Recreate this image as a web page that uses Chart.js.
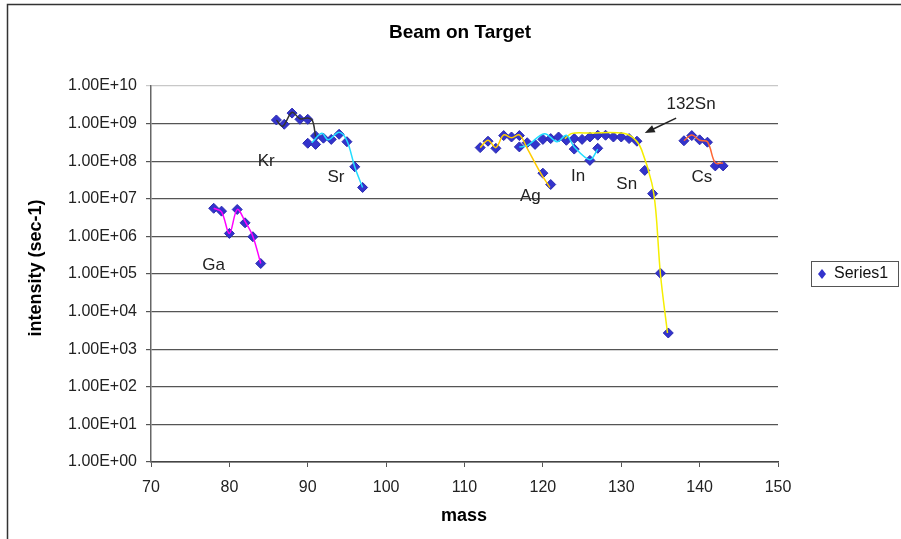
<!DOCTYPE html>
<html>
<head>
<meta charset="utf-8">
<title>Beam on Target</title>
<script src="https://cdn.jsdelivr.net/npm/chart.js@4/dist/chart.umd.min.js"></script>
<style>
  body { margin:0; background:#fff; }
  #chart { display:block; }
</style>
</head>
<body>
<canvas id="chart" width="901" height="539"></canvas>
<script>
// Series1 : measured yields
var massValues = [78,79,80,81,82,83,84,
  86,87,88,89,90,90,91,91,92,93,94,95,96,97,
  112,113,114,115,116,117,117,118,119,120,120,121,121,122,123,124,124,125,126,126,127,127,128,129,130,131,132,133,134,135,136,
  138,139,140,141,142,143];
var intensityValues = [5.6e6,4.7e6,1.2e6,5.2e6,2.3e6,9.8e5,1.9e5,
  1.25e9,9.6e8,1.9e9,1.3e9,1.3e9,3.0e8,4.7e8,2.8e8,4.1e8,3.8e8,5.2e8,3.3e8,7.1e7,2.0e7,
  2.3e8,3.4e8,2.2e8,4.8e8,4.4e8,4.8e8,2.4e8,3.1e8,2.8e8,3.8e8,4.8e7,4.0e8,2.4e7,4.4e8,3.6e8,4.0e8,2.1e8,3.8e8,4.4e8,1.05e8,4.9e8,2.2e8,4.9e8,4.4e8,4.4e8,4.0e8,3.4e8,5.7e7,1.37e7,1.05e5,2.7e3,
  3.5e8,4.8e8,3.7e8,3.2e8,7.5e7,7.5e7];

// hand drawn element curves [mass, intensity]
var curveGa = [[78,5.6e6],[79,4.5e6],[80,1.2e6],[81,5.2e6],[82,2.5e6],[83,1.0e6],[84,1.9e5]];
var curveKr = [[86,1.25e9],[86.8,8.5e8],[88,2.0e9],[89,1.35e9],[90,1.4e9],[90.6,1.2e9],[91,4.5e8]];
var curveSr = [[90.5,3.1e8],[91.8,5.5e8],[92.6,3.7e8],[94,5.9e8],[95,3.5e8],[96,7e7],[97,2e7]];
var curveAg = [[112,2.3e8],[113,3.6e8],[114,2.3e8],[115,5e8],[116,4.2e8],[117,5e8],[118,2.2e8],[119.6,5.3e7],[120.9,2e7]];
var curveIn = [[117,2.4e8],[118,2.6e8],[120.2,5.4e8],[121.8,3.3e8],[123,4.9e8],[124,2.4e8],[126,1.1e8],[127,2.1e8]];
var curveSn = [[122.8,4e8],[123.7,5.5e8],[126,5.6e8],[130.3,5.5e8],[131.8,3.7e8],[132.6,2e8],[133.9,2.6e7],[134.4,5e6],[135,1e5],[135.9,2.7e3]];
var curveCs = [[138,3.5e8],[139,5e8],[140,3.6e8],[141,3.3e8],[142,9e7],[143,9e7]];

var massTicks = [70,80,90,100,110,120,130,140,150];
var decadeTicks = [0,1,2,3,4,5,6,7,8,9,10];

// element labels anchored in data units
var elementLabels = [
  {text:'Ga', mass:78.0, value:1.74e5},
  {text:'Kr', mass:84.7, value:1.0e8},
  {text:'Sr', mass:93.6, value:3.8e7},
  {text:'Ag', mass:118.4, value:1.17e7},
  {text:'In', mass:124.5, value:4.0e7},
  {text:'Sn', mass:130.7, value:2.45e7},
  {text:'Cs', mass:140.3, value:3.8e7},
  {text:'132Sn', mass:138.9, value:3.3e9}
];
var arrowFrom = [137.0, 1.4e9];
var arrowTo = [133.0, 5.6e8];

function toPoints(pairs) {
  return pairs.map(function(p){ return {x:p[0], y:p[1]}; });
}
function curve(pairs, color) {
  return {label:'', data:toPoints(pairs), showLine:true, borderColor:color, borderWidth:1.5,
    pointRadius:0, tension:0.35, fill:false, order:1};
}

var decor = {
  id:'decor',
  afterDraw: function(chart) {
    var ctx = chart.ctx, xs = chart.scales.x, ys = chart.scales.y;
    ctx.save();
    // outer frame
    ctx.strokeStyle = '#333'; ctx.lineWidth = 1.5;
    ctx.strokeRect(7.5, 4.5, 1200, 1200);
    ctx.fillStyle = '#000';
    ctx.textAlign = 'center'; ctx.textBaseline = 'middle';
    ctx.font = 'bold 19px "Liberation Sans", Arial, sans-serif';
    ctx.fillText('Beam on Target', 460, 33);
    ctx.font = 'bold 18px "Liberation Sans", Arial, sans-serif';
    ctx.fillText('mass', 464, 516);
    ctx.save();
    ctx.translate(36, 268); ctx.rotate(-Math.PI/2);
    ctx.fillText('intensity (sec-1)', 0, 0);
    ctx.restore();
    // labels
    ctx.fillStyle = '#222';
    ctx.font = '17px "Liberation Sans", Arial, sans-serif';
    elementLabels.forEach(function(l){
      ctx.fillText(l.text, xs.getPixelForValue(l.mass), ys.getPixelForValue(l.value));
    });
    // arrow
    var x1 = xs.getPixelForValue(arrowFrom[0]), y1 = ys.getPixelForValue(arrowFrom[1]);
    var x2 = xs.getPixelForValue(arrowTo[0]), y2 = ys.getPixelForValue(arrowTo[1]);
    var a = Math.atan2(y2-y1, x2-x1);
    ctx.strokeStyle = '#222'; ctx.lineWidth = 1.5;
    ctx.beginPath(); ctx.moveTo(x1,y1); ctx.lineTo(x2-6*Math.cos(a), y2-6*Math.sin(a)); ctx.stroke();
    ctx.beginPath();
    ctx.moveTo(x2,y2);
    ctx.lineTo(x2-10*Math.cos(a)+4*Math.sin(a), y2-10*Math.sin(a)-4*Math.cos(a));
    ctx.lineTo(x2-10*Math.cos(a)-4*Math.sin(a), y2-10*Math.sin(a)+4*Math.cos(a));
    ctx.closePath(); ctx.fillStyle = '#222'; ctx.fill();
    // legend
    ctx.strokeStyle = '#555'; ctx.lineWidth = 1;
    ctx.strokeRect(811.5, 261.5, 87, 25);
    ctx.fillStyle = '#3333CC';
    ctx.beginPath();
    ctx.moveTo(822,269); ctx.lineTo(826,274); ctx.lineTo(822,279); ctx.lineTo(818,274);
    ctx.closePath(); ctx.fill();
    ctx.fillStyle = '#111'; ctx.textAlign = 'left';
    ctx.font = '16px "Liberation Sans", Arial, sans-serif';
    ctx.fillText('Series1', 834, 274);
    ctx.restore();
  }
};

new Chart(document.getElementById('chart'), {
  type:'scatter',
  data:{
    datasets:[
      {label:'Series1', data:massValues.map(function(m,i){ return {x:m, y:intensityValues[i]}; }),
        pointStyle:'rectRot', pointRadius:5, backgroundColor:'#3333CC', borderColor:'#2A2AB0', borderWidth:1, order:2},
      curve(curveGa, '#FF00FF'),
      curve(curveKr, '#333333'),
      curve(curveSr, '#22DDFF'),
      curve(curveAg, '#FFCC00'),
      curve(curveIn, '#22DDFF'),
      curve(curveSn, '#F5EE00'),
      curve(curveCs, '#FF6633')
    ]
  },
  options:{
    responsive:false,
    animation:false,
    devicePixelRatio:1,
    layout:{padding:{left:0, right:123, top:86, bottom:0}},
    plugins:{legend:{display:false}, tooltip:{enabled:false}, title:{display:false}},
    scales:{
      x:{
        type:'linear', min:70, max:150,
        afterBuildTicks:function(s){ s.ticks = massTicks.map(function(v){ return {value:v}; }); },
        afterFit:function(s){ s.height = 539-462; },
        ticks:{color:'#222', padding:11, font:{size:16, family:'"Liberation Sans", Arial, sans-serif'}},
        grid:{drawOnChartArea:false, drawTicks:true, tickLength:5, color:'#555'},
        border:{color:'#444', width:1.5}
      },
      y:{
        type:'logarithmic', min:1, max:1e10,
        afterBuildTicks:function(s){ s.ticks = decadeTicks.map(function(e){ return {value:Math.pow(10,e)}; }); },
        afterFit:function(s){ s.width = 151; },
        ticks:{color:'#222', padding:9, font:{size:16, family:'"Liberation Sans", Arial, sans-serif'},
          callback:function(v){ var e = Math.round(Math.log10(v)); return '1.00E+' + (e<10?'0':'') + e; }},
        grid:{drawTicks:true, tickLength:5, lineWidth:1.2,
          color:function(c){ return c.tick && c.tick.value===1e10 ? '#c8c8c8' : '#555'; }},
        border:{color:'#666', width:1.5}
      }
    }
  },
  plugins:[decor]
});
</script>
</body>
</html>
